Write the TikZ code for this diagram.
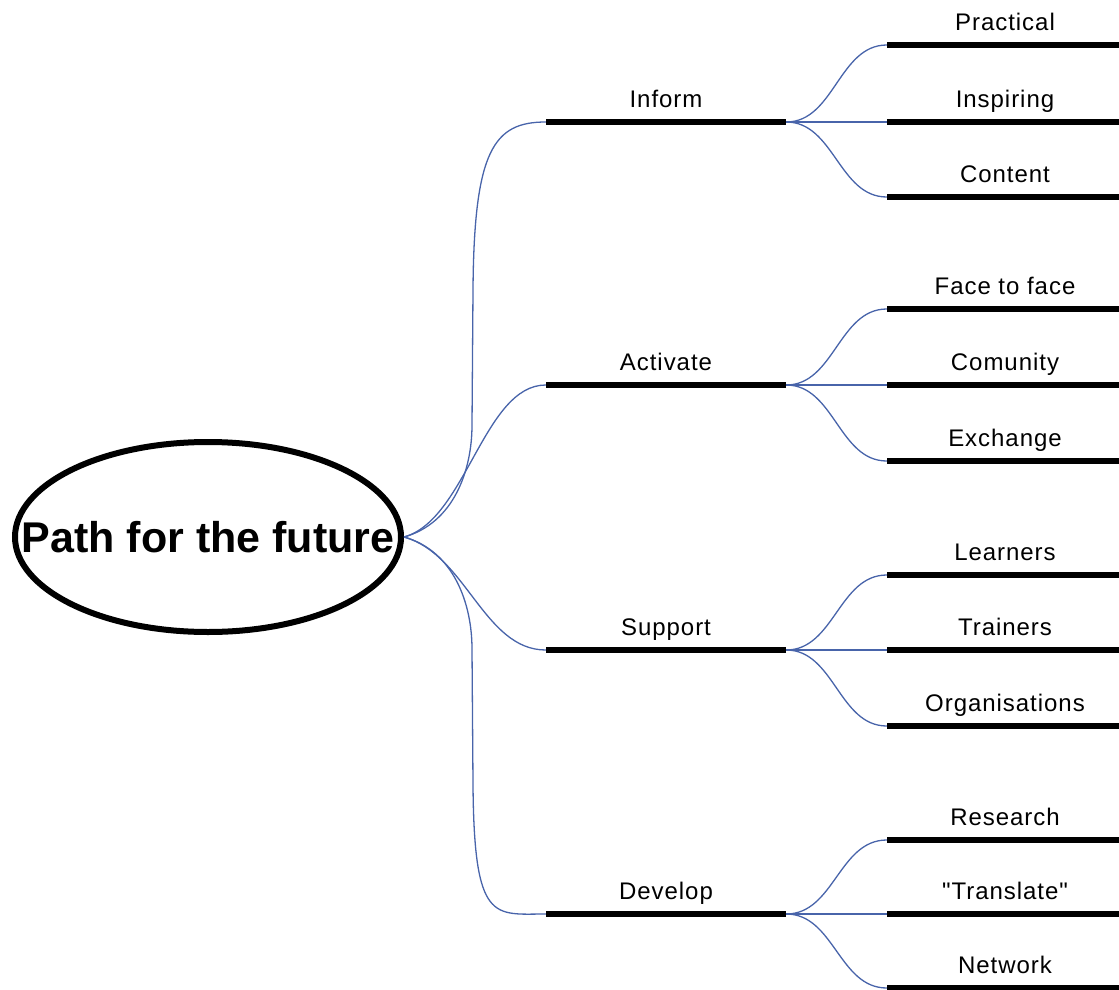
\documentclass[tikz,border=0pt]{standalone}
\usepackage{fontspec}
\setmainfont{Liberation Sans}
\newfontfamily\topicfont{Liberation Sans}[LetterSpace=4]
\usepackage{tikz}
\usetikzlibrary{shapes.geometric}
\definecolor{linkblue}{RGB}{72,100,170}
\tikzset{%
  hub/.style={draw,shape=ellipse,line width=6pt,minimum width=386pt,minimum height=190pt,inner sep=0pt,font=\bfseries\fontsize{43}{48}\selectfont},
  bar/.style={fill=black,shape=rectangle,inner sep=0pt,minimum height=6pt,minimum width=240pt},
  subbar/.style={bar,minimum width=236pt},
  link/.style={draw=linkblue,line width=1.3pt},
  every label/.style={font=\topicfont\fontsize{24}{28}\selectfont,inner sep=0pt,text depth=5pt}
}
\begin{document}
\begin{tikzpicture}[x=1pt,y=-1pt,label distance=6pt]
  \useasboundingbox (0,0) rectangle (1119,990);
  \path
    (208,537) node (root)[hub]{\makebox[0pt]{Path for the future}}
    (666,122) node (m_1)[bar,label=above:Inform]{}
    (666,385) node (m_2)[bar,label=above:Activate]{}
    (666,650) node (m_3)[bar,label=above:Support]{}
    (666,914) node (m_4)[bar,label=above:Develop]{};
  \path
    (1005,45) node (s_1_1)[subbar,label=above:Practical]{}
    (1005,122) node (s_1_2)[subbar,label=above:Inspiring]{}
    (1005,197) node (s_1_3)[subbar,label=above:Content]{}
    (1005,309) node (s_2_1)[subbar,label=above:Face to face]{}
    (1005,385) node (s_2_2)[subbar,label=above:Comunity]{}
    (1005,461) node (s_2_3)[subbar,label=above:Exchange]{}
    (1005,575) node (s_3_1)[subbar,label=above:Learners]{}
    (1005,650) node (s_3_2)[subbar,label=above:Trainers]{}
    (1005,726) node (s_3_3)[subbar,label=above:Organisations]{}
    (1005,840) node (s_4_1)[subbar,label=above:Research]{}
    (1005,914) node (s_4_2)[subbar,label=above:"Translate"]{}
    (1005,988) node (s_4_3)[subbar,label=above:Network]{};
  % root to main topics
  \draw[link] (root.east) .. controls +(50,-14) and +(0,45) .. (472,425)
    -- (473,290) .. controls +(1,-140) and +(-52,0) .. (m_1.west);
  \draw[link] (root.east) .. controls +(62,-17) and +(-62,0) .. (m_2.west);
  \draw[link] (root.east) .. controls +(62,17) and +(-62,0) .. (m_3.west);
  \draw[link] (root.east) .. controls +(50,14) and +(0,-45) .. (472,649)
    -- (473,784) .. controls +(1,140) and +(-52,0) .. (m_4.west);
  % main topics to sub topics
  \draw[link] (m_1.east) .. controls +(48,0) and +(-48,0) .. (s_1_1.west);
  \draw[link] (m_1.east) -- (s_1_2.west);
  \draw[link] (m_1.east) .. controls +(48,0) and +(-48,0) .. (s_1_3.west);
  \draw[link] (m_2.east) .. controls +(48,0) and +(-48,0) .. (s_2_1.west);
  \draw[link] (m_2.east) -- (s_2_2.west);
  \draw[link] (m_2.east) .. controls +(48,0) and +(-48,0) .. (s_2_3.west);
  \draw[link] (m_3.east) .. controls +(48,0) and +(-48,0) .. (s_3_1.west);
  \draw[link] (m_3.east) -- (s_3_2.west);
  \draw[link] (m_3.east) .. controls +(48,0) and +(-48,0) .. (s_3_3.west);
  \draw[link] (m_4.east) .. controls +(48,0) and +(-48,0) .. (s_4_1.west);
  \draw[link] (m_4.east) -- (s_4_2.west);
  \draw[link] (m_4.east) .. controls +(48,0) and +(-48,0) .. (s_4_3.west);
\end{tikzpicture}
\end{document}
